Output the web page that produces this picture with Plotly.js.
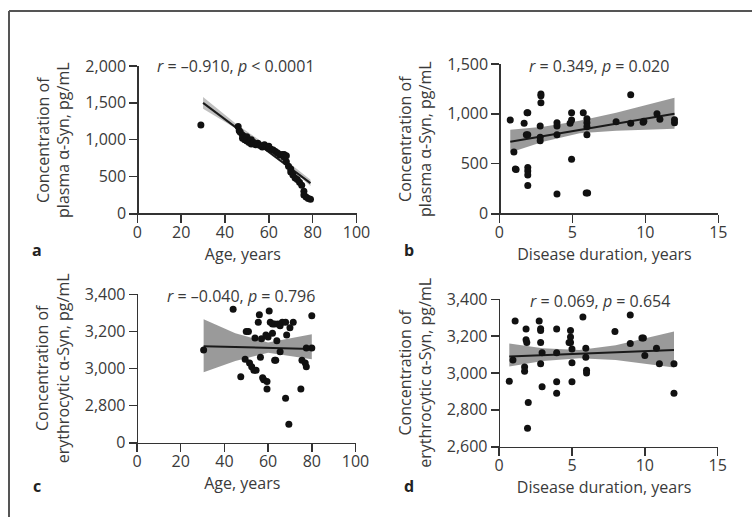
<!DOCTYPE html>
<html><head><meta charset="utf-8">
<script src="https://cdn.plot.ly/plotly-3.0.1.min.js"></script>
<style>html,body{margin:0;padding:0;background:#fff}#chart{width:752px;height:517px}</style>
</head><body><div id="chart"></div>
<script>
// Panel a: age vs plasma α-Syn
var ageA = [29,46,46.5,47,48,48,49,50,50,51,52,52,53,54,55,56,57,58,59,60,60,61,62,63,64,65,66,67,67,68,68,69,70,70,71,72,73,74,75,76,76,77,78,79];
var concA = [1200,1180,1120,1100,1060,1020,1000,1040,980,960,1000,940,960,930,950,920,900,930,900,880,910,870,860,840,820,790,800,760,800,700,780,640,600,560,520,480,460,420,380,300,250,220,200,190];
var fitAx = [30,79], fitAy = [1500,410];
var bandAx = [30,45,60,79], bandAup = [1580,1215,905,455], bandAlo = [1420,1150,860,370];

// Panel b: disease duration vs plasma α-Syn
var durB = [0.75,1.0,1.1,1.15,1.7,1.9,1.95,1.85,1.95,1.95,1.95,1.95,1.95,2.85,2.85,2.85,2.8,2.8,2.8,3.95,3.95,3.95,3.95,4.85,4.95,4.95,4.95,5.75,6.0,6.0,6.0,6.0,5.95,6.05,8.0,9.0,9.0,9.85,9.9,10.8,11.0,12.0,12.0];
var concB = [937,615,445,440,905,1011,1011,790,790,460,425,385,280,1199,1180,1111,877,765,730,910,877,790,195,905,937,1011,543,1011,950,910,870,790,205,205,920,1190,905,915,925,1000,945,940,910];
var fitBx = [0.75,12], fitBy = [720,1000];
var bandBx = [0.75,3,5.5,8,12], bandBup = [840,870,930,1010,1160], bandBlo = [610,720,805,830,850];

// Panel c: age vs erythrocytic α-Syn
var ageC = [30.5,44,47.5,50,51,49.5,51.5,52.5,53.5,54,54.5,55.5,56,57,56.5,57.5,58,59.5,59.5,59,60,60.5,61,62,62,63,63.5,63,64.5,65.5,64,65.5,66.5,68,68.5,68,69.5,70,71.5,75,75.5,77,77.5,80,80,77.5];
var concC = [3100,3320,2955,3200,3200,3050,3030,3010,2990,3165,2990,3250,3290,3160,3060,2950,2940,2930,2890,3180,3170,3310,3250,3240,3190,3045,3045,3240,3240,3230,3150,3090,3250,3250,3180,2840,2700,3220,3250,2890,3045,3030,3010,3285,3110,3110];
var fitCx = [30.5,80], fitCy = [3120,3105];
var bandCx = [30.5,45,60,80], bandCup = [3265,3190,3140,3185], bandClo = [2980,3040,3085,3050];

// Panel d: disease duration vs erythrocytic α-Syn
var durD = [0.7,1.1,0.95,1.85,1.85,1.9,1.75,1.75,2.0,1.95,2.75,2.85,2.85,2.85,2.95,2.85,2.95,3.95,3.95,3.95,3.95,4.9,4.9,4.9,4.8,5.0,5.0,5.0,5.75,5.95,5.95,6.0,6.0,7.95,9.0,9.0,9.8,9.9,10.0,10.8,11.0,12.0,12.0];
var concD = [2955,3282,3070,3239,3180,3165,3032,3010,2840,2700,3282,3240,3230,3165,3110,3050,2926,3239,3110,2953,2890,3230,3195,3165,3165,3130,3055,2953,3304,3135,3085,3015,3000,3225,3315,3160,3190,3190,3095,3135,3050,3050,2890];
var fitDx = [0.7,12], fitDy = [3090,3125];
var bandDx = [0.7,3,5.5,8,12], bandDup = [3160,3135,3125,3150,3225], bandDlo = [3035,3065,3080,3070,3030];

var yTicksA = [0,500,1000,1500,2000], yTextA = ['0','500','1,000','1,500','2,000'];
var yTicksB = [0,500,1000,1500], yTextB = ['0','500','1,000','1,500'];
var yTicksE = [2600,2800,3000,3200,3400];
var yTextC = ['0','2,800','3,000','3,200','3,400'];
var yTextD = ['2,600','2,800','3,000','3,200','3,400'];

var statsText = ['<i>r</i> = –0.910, <i>p</i> < 0.0001','<i>r</i> = 0.349, <i>p</i> = 0.020','<i>r</i> = –0.040, <i>p</i> = 0.796','<i>r</i> = 0.069, <i>p</i> = 0.654'];
var panelLetters = ['a','b','c','d'];
var xTitles = ['Age, years','Disease duration, years','Age, years','Disease duration, years'];
var yTitles = ['Concentration of<br>plasma α-Syn, pg/mL','Concentration of<br>plasma α-Syn, pg/mL','Concentration of<br>erythrocytic α-Syn, pg/mL','Concentration of<br>erythrocytic α-Syn, pg/mL'];

var W = 752, H = 517;
var FONT = 'Open Sans, Noto Sans, sans-serif';
var TXT = '#3a3a3a';
var FS = 16;
function fx(px){return px/W;}
function fy(py){return 1-py/H;}

var panels = [
  {xs:ageA, ys:concA, fx_:fitAx, fy_:fitAy, bx:bandAx, bu:bandAup, bl:bandAlo, band:'rgba(140,140,140,0.55)'},
  {xs:durB, ys:concB, fx_:fitBx, fy_:fitBy, bx:bandBx, bu:bandBup, bl:bandBlo, band:'rgba(120,120,120,0.75)'},
  {xs:ageC, ys:concC, fx_:fitCx, fy_:fitCy, bx:bandCx, bu:bandCup, bl:bandClo, band:'rgba(120,120,120,0.75)'},
  {xs:durD, ys:concD, fx_:fitDx, fy_:fitDy, bx:bandDx, bu:bandDup, bl:bandDlo, band:'rgba(120,120,120,0.75)'}
];
var traces = [];
panels.forEach(function(p,i){
  var xa = i===0?'x':'x'+(i+1), ya = i===0?'y':'y'+(i+1);
  traces.push({x:p.bx, y:p.bl, xaxis:xa, yaxis:ya, mode:'lines', line:{width:0}, hoverinfo:'skip', showlegend:false});
  traces.push({x:p.bx, y:p.bu, xaxis:xa, yaxis:ya, mode:'lines', line:{width:0}, fill:'tonexty', fillcolor:p.band, hoverinfo:'skip', showlegend:false});
  traces.push({x:p.fx_, y:p.fy_, xaxis:xa, yaxis:ya, mode:'lines', line:{color:'#1a1a1a', width:2}, showlegend:false});
  traces.push({x:p.xs, y:p.ys, xaxis:xa, yaxis:ya, mode:'markers', marker:{color:'#111', size:7}, showlegend:false});
});

// pixel geometry for each panel
var geo = [
  {x0:129.3, x1:356.5, yax:137.3, yt:66, yb:213.3, xr:[-3.65,100], dx:20, yr:[0,2000], tv:yTicksA, tt:yTextA},
  {x0:490.7, x1:718.3, yax:499.3, yt:64, yb:213.3, xr:[-0.59,15], dx:5, yr:[0,1500], tv:yTicksB, tt:yTextB},
  {x0:129.0, x1:355.5, yax:136.7, yt:294.3, yb:442.7, xr:[-3.65,100], dx:20, yr:[2600,3400], tv:yTicksE, tt:yTextC},
  {x0:490.5, x1:717.7, yax:498.7, yt:299.3, yb:446.7, xr:[-0.59,15], dx:5, yr:[2600,3400], tv:yTicksE, tt:yTextD}
];
var statPos = [[236,66],[599,66],[241,296],[600,301]];
var letterPos = [[37,250],[409,250],[37,486],[409,486]];

var layout = {
  width:W, height:H, margin:{l:0,r:0,t:0,b:0},
  paper_bgcolor:'#fff', plot_bgcolor:'rgba(0,0,0,0)',
  font:{family:FONT, size:FS, color:TXT},
  showlegend:false, annotations:[], shapes:[
    {type:'line', xref:'paper', yref:'paper', x0:fx(9), x1:fx(9), y0:fy(11), y1:0, line:{color:'#555', width:2}},
    {type:'line', xref:'paper', yref:'paper', x0:fx(9), x1:1, y0:fy(11), y1:fy(11), line:{color:'#555', width:2}}
  ]
};
geo.forEach(function(g,i){
  var xk = i===0?'xaxis':'xaxis'+(i+1), yk = i===0?'yaxis':'yaxis'+(i+1);
  var ya = i===0?'y':'y'+(i+1), xa = i===0?'x':'x'+(i+1);
  layout[xk] = {domain:[fx(g.x0), fx(g.x1)], range:g.xr, anchor:ya, tick0:0, dtick:g.dx,
    showline:true, linecolor:'#333', linewidth:1.5, ticks:'outside', ticklen:8, tickwidth:1.5, tickcolor:'#333',
    ticklabelstandoff:-4,
    showgrid:false, zeroline:false, tickfont:{size:FS, color:TXT}, fixedrange:true,
    title:{text:xTitles[i], font:{size:FS, color:TXT}, standoff:0}};
  layout[yk] = {domain:[fy(g.yb), fy(g.yt)], range:g.yr, anchor:'free', position:fx(g.yax),
    tickvals:g.tv, ticktext:g.tt,
    showline:true, linecolor:'#333', linewidth:1.5, ticks:'outside', ticklen:8, tickwidth:1.5, tickcolor:'#333',
    showgrid:false, zeroline:false, tickfont:{size:FS, color:TXT}, fixedrange:true};
  layout.annotations.push({xref:'paper', yref:'paper', x:fx(statPos[i][0]), y:fy(statPos[i][1]), text:statsText[i], showarrow:false, xanchor:'center', yanchor:'middle', font:{size:FS, color:TXT}});
  layout.annotations.push({xref:'paper', yref:'paper', x:fx(letterPos[i][0]), y:fy(letterPos[i][1]), text:'<b>'+panelLetters[i]+'</b>', showarrow:false, xanchor:'center', yanchor:'middle', font:{size:FS, color:'#222'}});
  layout.annotations.push({xref:'paper', yref:'paper', x:fx(g.yax-84), y:fy((g.yt+g.yb)/2), text:yTitles[i], showarrow:false, textangle:-90, xanchor:'center', yanchor:'middle', font:{size:FS, color:TXT}});
});
Plotly.newPlot('chart', traces, layout, {displayModeBar:false, staticPlot:true});
</script></body></html>
